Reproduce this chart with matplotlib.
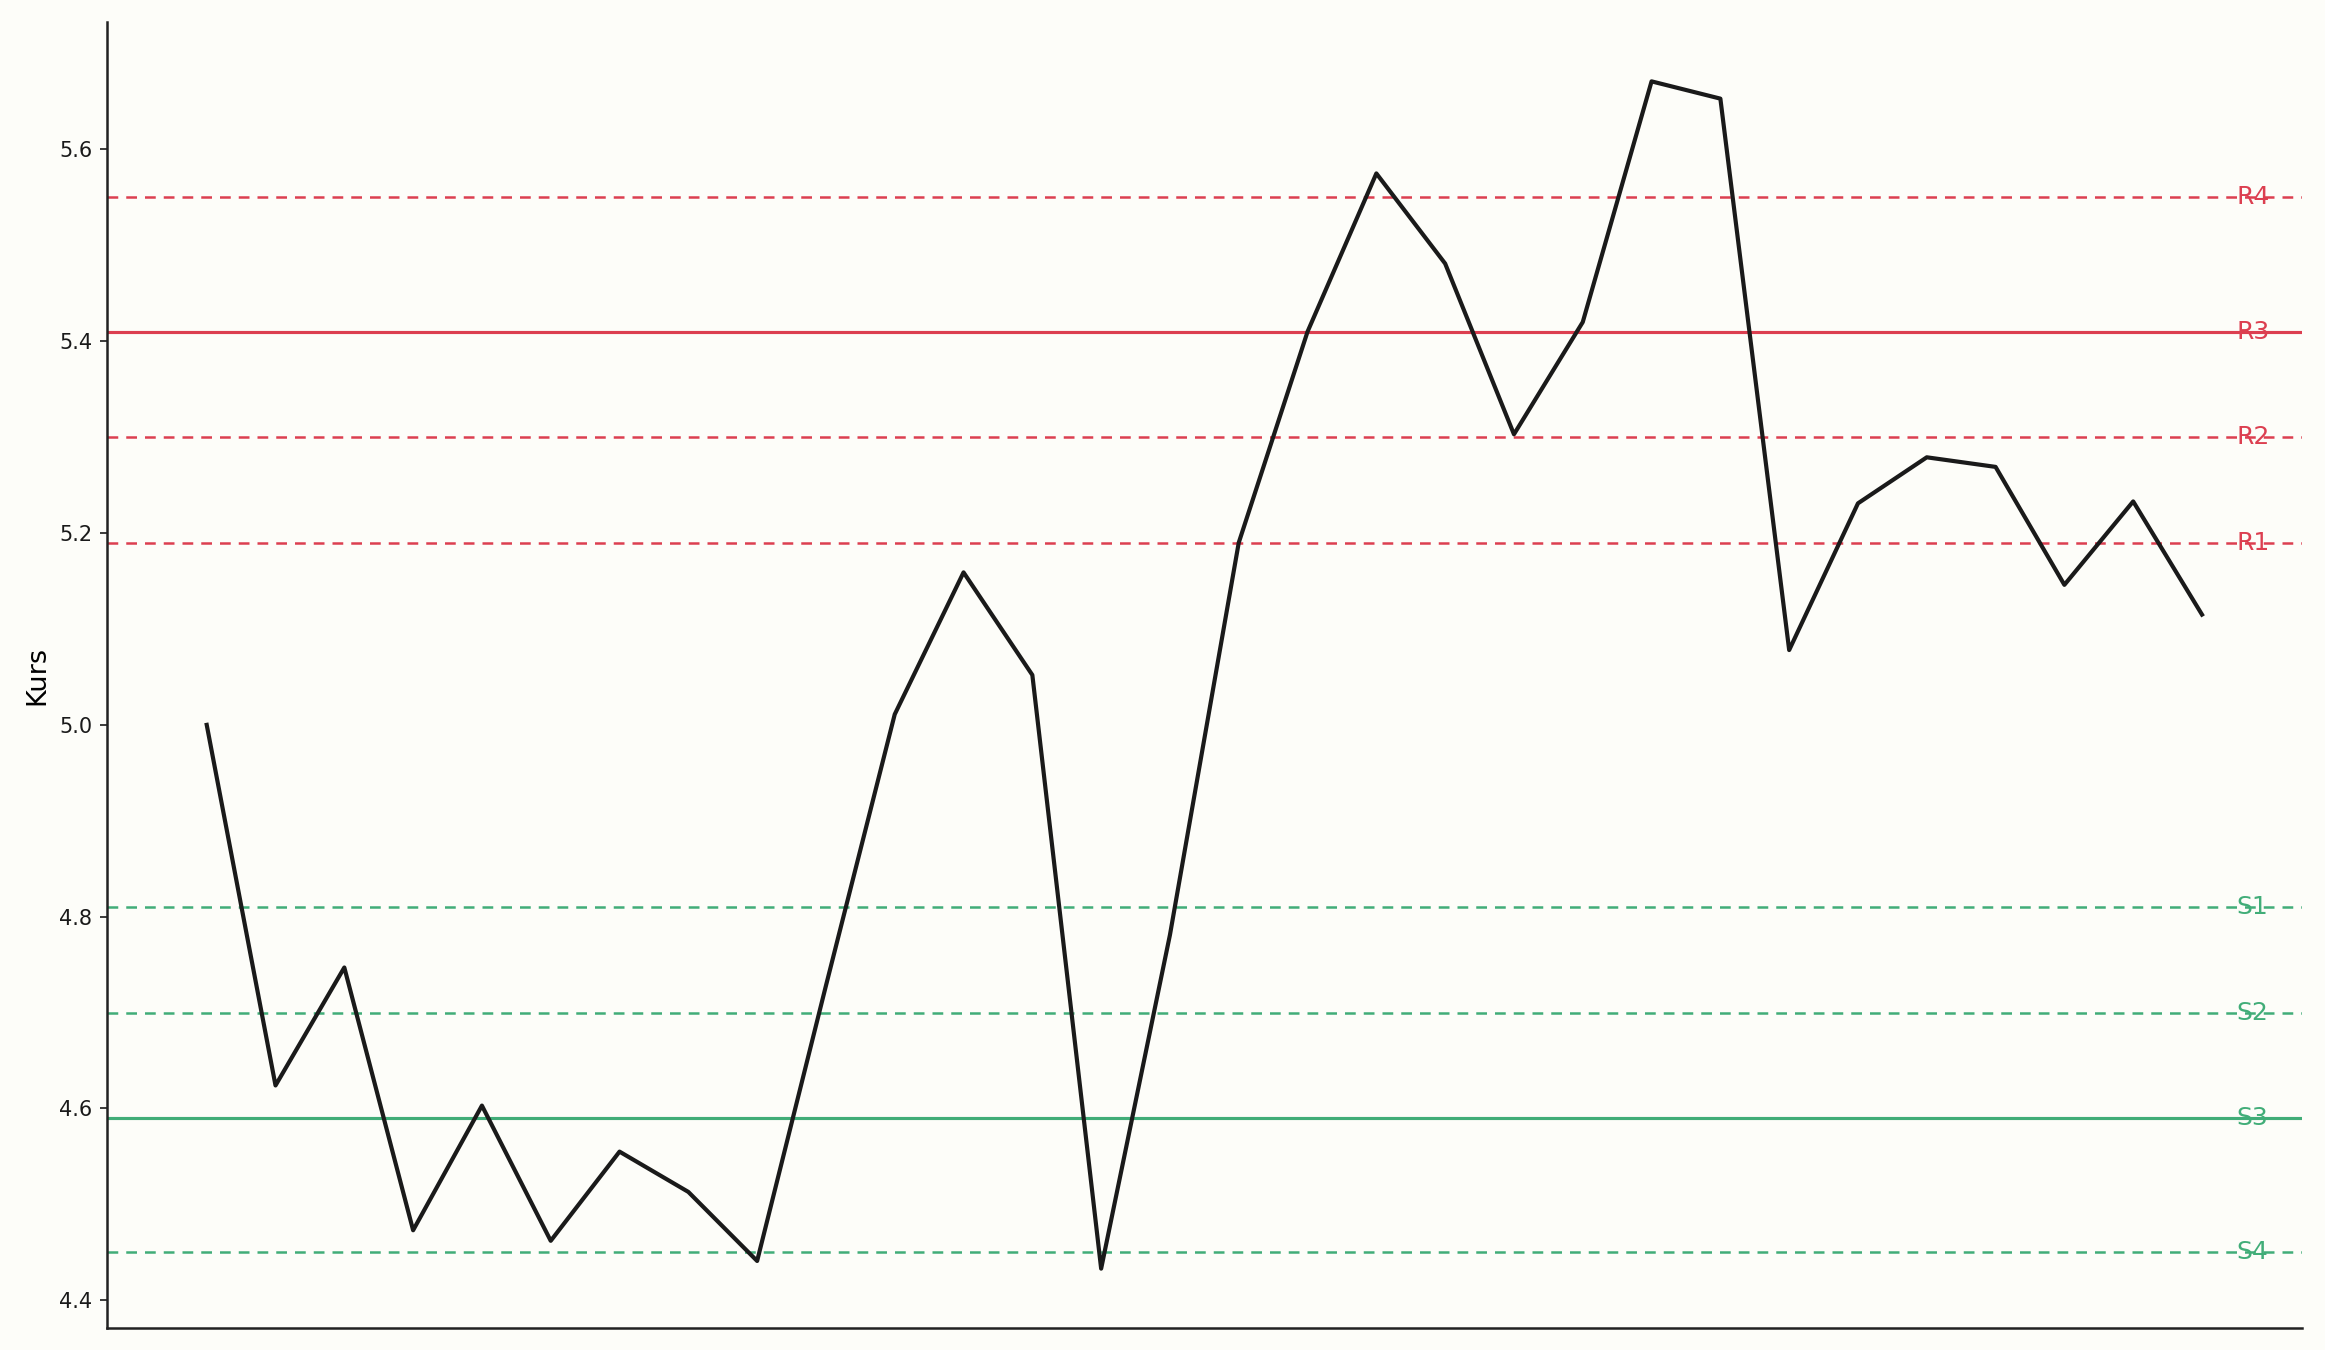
import matplotlib
matplotlib.use("Agg")
import matplotlib.pyplot as plt
import numpy as np

# Kursverlauf (30 Perioden)
kurs = [5.00, 4.624, 4.747, 4.473, 4.603, 4.462, 4.555, 4.513, 4.441, 4.728,
        5.011, 5.159, 5.052, 4.433, 4.781, 5.190, 5.410, 5.575, 5.481, 5.303,
        5.420, 5.671, 5.653, 5.078, 5.231, 5.279, 5.269, 5.146, 5.233, 5.115]

# Widerstände / Unterstützungen
r_namen = ["R1", "R2", "R3", "R4"]
r_werte = [5.19, 5.30, 5.41, 5.55]
s_namen = ["S1", "S2", "S3", "S4"]
s_werte = [4.81, 4.70, 4.59, 4.45]
# nur R3 / S3 durchgezogen
hauptlinie = {"R3", "S3"}

ROT = "#dc3f50"
GRUEN = "#41ad78"
HINTERGRUND = "#fdfdf9"

fig, ax = plt.subplots(figsize=(15.5, 9), dpi=150)
fig.patch.set_facecolor(HINTERGRUND)
ax.set_facecolor(HINTERGRUND)
fig.subplots_adjust(left=0.046, right=0.9900, bottom=0.0163, top=0.9837)

x = np.arange(len(kurs))
ax.plot(x, kurs, color="#1a1a1a", lw=2.0, zorder=3)

for namen, werte, farbe in ((r_namen, r_werte, ROT), (s_namen, s_werte, GRUEN)):
    for n, w in zip(namen, werte):
        if n in hauptlinie:
            ax.axhline(w, color=farbe, lw=1.5, zorder=2)
        else:
            ax.axhline(w, color=farbe, lw=1.2, linestyle=(0, (4.3, 3.2)), zorder=2)
        ax.text(len(kurs) - 0.5, w, n, color=farbe, fontsize=12,
                ha="left", va="center", zorder=4)

ax.set_xticks([])
ax.set_yticks([4.4, 4.6, 4.8, 5.0, 5.2, 5.4, 5.6])
ax.tick_params(axis="y", labelsize=10, colors="#1a1a1a")
ax.set_ylabel("Kurs", fontsize=13)
for s in ("top", "right"):
    ax.spines[s].set_visible(False)
for s in ("left", "bottom"):
    ax.spines[s].set_color("#222222")
    ax.spines[s].set_linewidth(1.2)

fig.savefig("out.png", dpi=150, facecolor=HINTERGRUND)
